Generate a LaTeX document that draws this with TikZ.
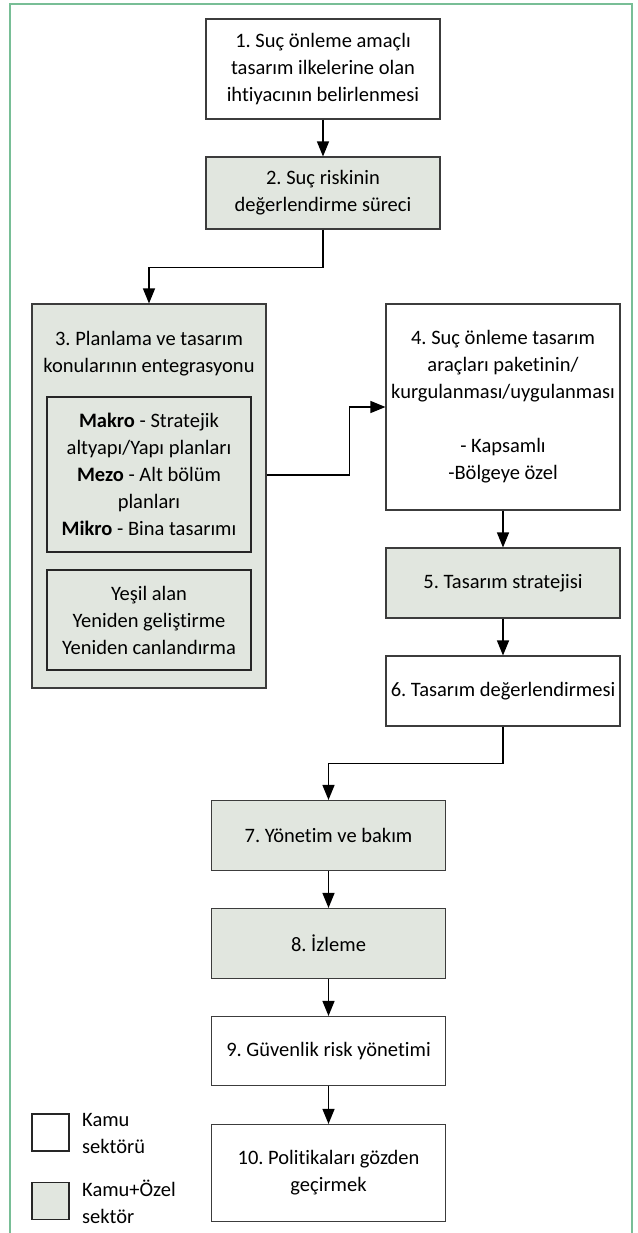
\documentclass[tikz,border=0pt]{standalone}
\usepackage{fontspec}
\setmainfont[Ligatures=NoCommon]{Carlito}
\frenchspacing
\usetikzlibrary{arrows.meta}
\definecolor{framegreen}{RGB}{120,190,150}
\definecolor{boxgray}{RGB}{225,230,223}
\definecolor{edgegray}{RGB}{60,60,60}
\begin{document}
\begin{tikzpicture}[x=1pt,y=-1pt,
  txt/.style={font=\fontsize{20.5}{27}\selectfont, align=center, inner sep=0pt},
  box/.style={txt, draw=edgegray, line width=1.1pt, minimum width=234pt},
  pub/.style={box, fill=white},
  mix/.style={box, fill=boxgray},
  inner/.style={txt, draw=black!85, line width=1.1pt, fill=boxgray, minimum width=204pt},
  arr/.style={draw=black, line width=1.3pt, -{Triangle[length=15pt,width=12pt]}},
  framestyle/.style={draw=framegreen, line width=1.8pt},
  legtxt/.style={font=\fontsize{20.5}{27}\selectfont, align=left, inner sep=0pt, anchor=west}
]
\useasboundingbox (0,0) rectangle (637,1233);
\draw[framestyle] (10,1233) -- (10,4) -- (632,4) -- (632,1233);

\node[pub, minimum height=100pt] (b1) at (323,69) {1. Suç önleme amaçlı\\tasarım ilkelerine olan\\ihtiyacının belirlenmesi};
\node[mix, minimum height=72pt] (b2) at (323,193) {2. Suç riskinin\\değerlendirme süreci};
\node[mix, minimum height=384pt] (b3) at (149,496) {};
\node[txt] (b3t) at (149,353.5) {3. Planlama ve tasarım\\konularının entegrasyonu};
\node[inner, minimum height=155pt] (b3a) at (149,474.5) {\textbf{Makro} - Stratejik\\altyapı/Yapı planları\\\textbf{Mezo} - Alt bölüm\\planları\\\textbf{Mikro} - Bina tasarımı};
\node[inner, minimum height=100pt] (b3b) at (149,620) {Yeşil alan\\Yeniden geliştirme\\Yeniden canlandırma};
\node[pub, minimum height=206pt] (b4) at (503,407) {4. Suç önleme tasarım\\araçları paketinin/\\kurgulanması/uygulanması\\[27pt]- Kapsamlı\\-Bölgeye özel};
\node[mix, minimum height=70pt] (b5) at (503,583) {5. Tasarım stratejisi};
\node[pub, minimum height=70pt] (b6) at (503,691) {6. Tasarım değerlendirmesi};
\node[mix, minimum height=70pt] (b7) at (328.5,835.5) {7. Yönetim ve bakım};
\node[mix, minimum height=70pt] (b8) at (328.5,943.5) {8. İzleme};
\node[pub, minimum height=69pt] (b9) at (328.5,1051) {9. Güvenlik risk yönetimi};
\node[pub, minimum height=97pt] (b10) at (328.5,1173) {10. Politikaları gözden\\geçirmek};

\node[draw=black!85, line width=1.1pt, fill=white, minimum width=37pt, minimum height=37pt, inner sep=0pt] (lg1) at (50.5,1132.5) {};
\node[draw=black!85, line width=1.1pt, fill=boxgray, minimum width=37pt, minimum height=37pt, inner sep=0pt] (lg2) at (50.5,1201) {};
\node[legtxt] (lt1) at (82,1133.5) {Kamu\\sektörü};
\node[legtxt] (lt2) at (82,1201.5) {Kamu+Özel\\sektör};

\draw[arr] (b1.south) -- (b2.north);
\draw[arr] (b2.south) -- ++(0,38) -| (b3.north);
\draw[arr] ([yshift=21pt]b3.east) -- ++(83,0) |- (b4.west);
\draw[arr] (b4.south) -- (b5.north);
\draw[arr] (b5.south) -- (b6.north);
\draw[arr] (b6.south) -- ++(0,37) -| (b7.north);
\draw[arr] (b7.south) -- (b8.north);
\draw[arr] (b8.south) -- (b9.north);
\draw[arr] (b9.south) -- (b10.north);
\end{tikzpicture}
\end{document}
